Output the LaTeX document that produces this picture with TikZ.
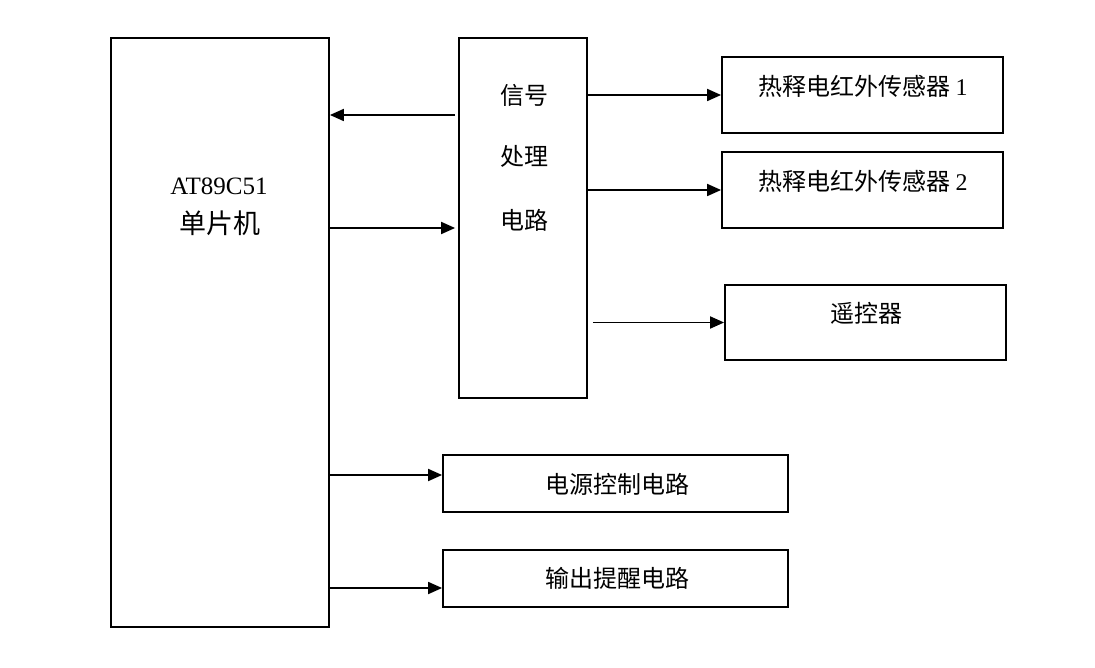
\documentclass[tikz,border=0pt]{standalone}
\usepackage{fontspec}
\setmainfont{Liberation Serif}
\newfontfamily\cjk{Noto Sans CJK SC}
\usetikzlibrary{arrows.meta}

\tikzstyle{block} = [draw, line width=1.8pt, inner sep=0pt]
\tikzstyle{txt} = [inner sep=0pt, font=\fontsize{24}{28}\selectfont\cjk]
\tikzstyle{arr} = [line width=1.8pt, -{Triangle[length=14pt, width=12pt]}]

\begin{document}
\begin{tikzpicture}[x=1pt, y=-1pt]
\useasboundingbox (0,0) rectangle (1095,668);
% blocks
\node[block, minimum width=218pt, minimum height=589pt] (mcu) at (220,332.5) {};
\node[block, minimum width=128pt, minimum height=360pt] (sig) at (523,218) {};
\node[block, minimum width=281pt, minimum height=76pt] (pir1) at (862.5,95) {};
\node[block, minimum width=281pt, minimum height=76pt] (pir2) at (862.5,190) {};
\node[block, minimum width=281pt, minimum height=75pt] (remote) at (865.5,322.5) {};
\node[block, minimum width=345pt, minimum height=57pt] (power) at (615.5,483.5) {};
\node[block, minimum width=345pt, minimum height=57pt] (alarm) at (615.5,578.5) {};
% texts
\node[txt, font=\fontsize{25}{30}\selectfont\rmfamily] (mcut1) at (219,186) {AT89C51};
\node[txt, font=\fontsize{27}{30}\selectfont\cjk] (mcut2) at (220,223) {单片机};
\node[txt] (sigt1) at (524,95) {信号};
\node[txt] (sigt2) at (524,156) {处理};
\node[txt] (sigt3) at (524,220) {电路};
\node[txt] (pir1t) at (863,86) {热释电红外传感器 {\rmfamily 1}};
\node[txt] (pir2t) at (863,181) {热释电红外传感器 {\rmfamily 2}};
\node[txt] (remotet) at (866,313) {遥控器};
\node[txt] (powert) at (617,484) {电源控制电路};
\node[txt] (alarmt) at (617,578) {输出提醒电路};
% connectors
\draw[arr] ([xshift=-3pt]sig.west |- 0,115) -- (mcu.east |- 0,115);
\draw[arr] (mcu.east |- 0,228) -- ([xshift=-3pt]sig.west |- 0,228);
\draw[arr] (sig.east |- pir1) -- (pir1.west);
\draw[arr] (sig.east |- pir2) -- (pir2.west);
\draw[arr] ([xshift=5pt]sig.east |- remote) -- (remote.west);
\draw[arr] (mcu.east |- 0,475) -- (power.west |- 0,475);
\draw[arr] (mcu.east |- 0,588) -- (alarm.west |- 0,588);
\end{tikzpicture}
\end{document}
